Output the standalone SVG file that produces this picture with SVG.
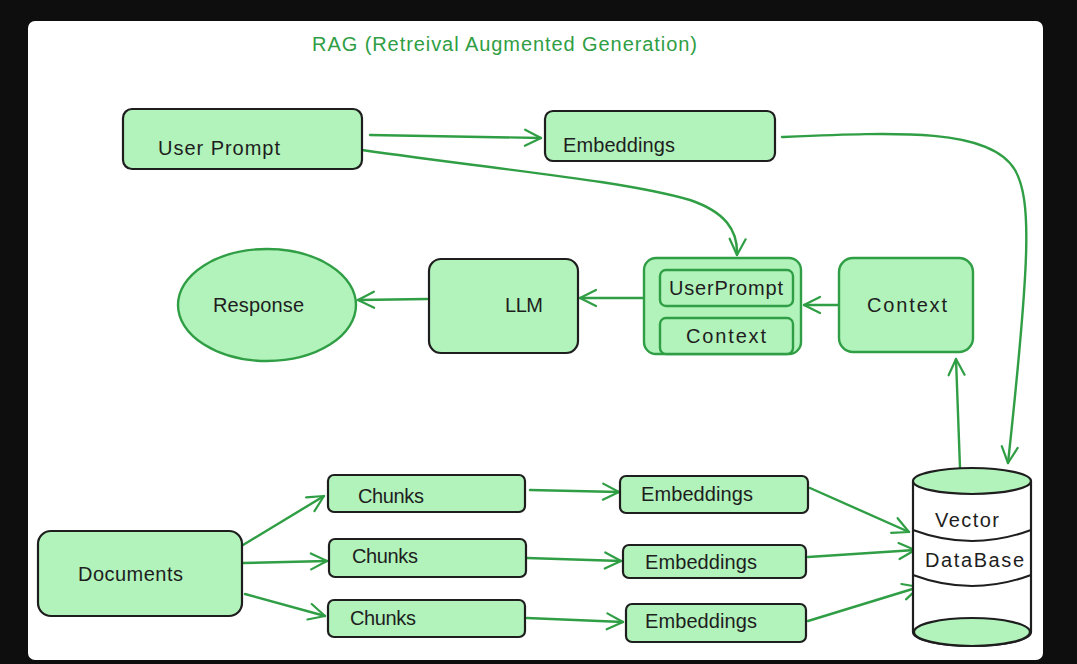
<svg xmlns="http://www.w3.org/2000/svg" width="1077" height="664" viewBox="0 0 1077 664">
<defs>
<marker id="ah" viewBox="0 0 20 20" refX="18" refY="10" markerWidth="20" markerHeight="20" markerUnits="userSpaceOnUse" orient="auto">
<path d="M2,2 L18,10 L2,18" fill="none" stroke="#2f9e44" stroke-width="2.2" stroke-linecap="round" stroke-linejoin="round"/>
</marker>
<style>
.nd{fill:#b2f2bb;stroke:#1e1e1e;stroke-width:2.2}
.ng{fill:#b2f2bb;stroke:#2f9e44;stroke-width:2.4}
.t{font-family:"Liberation Sans",Arial,sans-serif;font-size:20px;fill:#1e1e1e}
.c{fill:none;stroke:#2f9e44;stroke-width:2.4;stroke-linecap:round;marker-end:url(#ah)}
</style>
</defs>
<rect x="0" y="0" width="1077" height="664" fill="#0e0e0e"/>
<rect x="28" y="21" width="1015" height="639" rx="7" fill="#ffffff"/>
<text x="312" y="51" style="font-family:'Liberation Sans',Arial,sans-serif;font-size:20px;fill:#2f9e44" textLength="385">RAG (Retreival Augmented Generation)</text>

<g id="connectors">
<path class="c" d="M370,135 L541,138"/>
<path class="c" d="M782,137 C900,132 990,128 1015,170 C1032,200 1030,260 1008,463"/>
<path class="c" d="M362,150 C500,170 620,180 690,200 C725,212 738,230 737,255"/>
<path class="c" d="M838,305 L804,305"/>
<path class="c" d="M643,298 L580,298"/>
<path class="c" d="M427,299 L358,300"/>
<path class="c" d="M960,468 L956,359"/>
<path class="c" d="M243,545 L324,496"/>
<path class="c" d="M243,563 L327,561"/>
<path class="c" d="M245,594 L325,616"/>
<path class="c" d="M530,490 L619,492"/>
<path class="c" d="M527,558 L621,561"/>
<path class="c" d="M527,618 L623,622"/>
<path class="c" d="M810,488 L909,532"/>
<path class="c" d="M808,557 L915,550"/>
<path class="c" d="M808,621 L919,587"/>
</g>

<g id="user-prompt">
<rect class="nd" x="123" y="109" width="239" height="60" rx="9"/>
<text class="t" x="158" y="155" textLength="122">User Prompt</text>
</g>
<g id="embeddings-top">
<rect class="nd" x="545" y="111" width="230" height="50" rx="8"/>
<text class="t" x="563" y="152" textLength="112">Embeddings</text>
</g>
<g id="response">
<ellipse class="ng" cx="267" cy="305" rx="89" ry="56"/>
<text class="t" x="213" y="312" textLength="91">Response</text>
</g>
<g id="llm">
<rect class="nd" x="429" y="259" width="149" height="94" rx="12"/>
<text class="t" x="505" y="312" textLength="38">LLM</text>
</g>
<g id="prompt-context">
<rect class="ng" x="644" y="258" width="157" height="96" rx="12"/>
<rect class="ng" x="660" y="270" width="133" height="36" rx="6"/>
<text class="t" x="669" y="295" textLength="114">UserPrompt</text>
<rect class="ng" x="660" y="318" width="133" height="36" rx="6"/>
<text class="t" x="686" y="343" textLength="80">Context</text>
</g>
<g id="context">
<rect class="ng" x="839" y="258" width="134" height="94" rx="14"/>
<text class="t" x="867" y="312" textLength="80">Context</text>
</g>
<g id="vector-db">
<path d="M913,481 L913,632 A59,14 0 0 0 1031,632 L1031,481" fill="#ffffff" stroke="#1e1e1e" stroke-width="2.2"/>
<ellipse cx="972" cy="632" rx="58" ry="14" fill="#b2f2bb" stroke="#1e1e1e" stroke-width="2.2"/>
<ellipse cx="972" cy="481" rx="59" ry="13" fill="#b2f2bb" stroke="#1e1e1e" stroke-width="2.2"/>
<path d="M913,530 Q972,552 1031,530" fill="none" stroke="#1e1e1e" stroke-width="2"/>
<path d="M913,575 Q972,597 1031,575" fill="none" stroke="#1e1e1e" stroke-width="2"/>
<text class="t" x="935" y="527" textLength="64">Vector</text>
<text class="t" x="925" y="567" textLength="99">DataBase</text>
</g>
<g id="documents">
<rect class="nd" x="38" y="531" width="204" height="85" rx="13"/>
<text class="t" x="78" y="581" textLength="105">Documents</text>
</g>
<g id="chunks-1">
<rect class="nd" x="328" y="475" width="197" height="37" rx="6"/>
<text class="t" x="358" y="503" textLength="66">Chunks</text>
</g>
<g id="chunks-2">
<rect class="nd" x="329" y="539" width="197" height="38" rx="6"/>
<text class="t" x="352" y="563" textLength="66">Chunks</text>
</g>
<g id="chunks-3">
<rect class="nd" x="328" y="600" width="197" height="37" rx="6"/>
<text class="t" x="350" y="625" textLength="66">Chunks</text>
</g>
<g id="embeddings-1">
<rect class="nd" x="620" y="476" width="188" height="37" rx="6"/>
<text class="t" x="641" y="501" textLength="112">Embeddings</text>
</g>
<g id="embeddings-2">
<rect class="nd" x="623" y="545" width="183" height="33" rx="6"/>
<text class="t" x="645" y="569" textLength="112">Embeddings</text>
</g>
<g id="embeddings-3">
<rect class="nd" x="626" y="604" width="180" height="38" rx="6"/>
<text class="t" x="645" y="628" textLength="112">Embeddings</text>
</g>
</svg>
